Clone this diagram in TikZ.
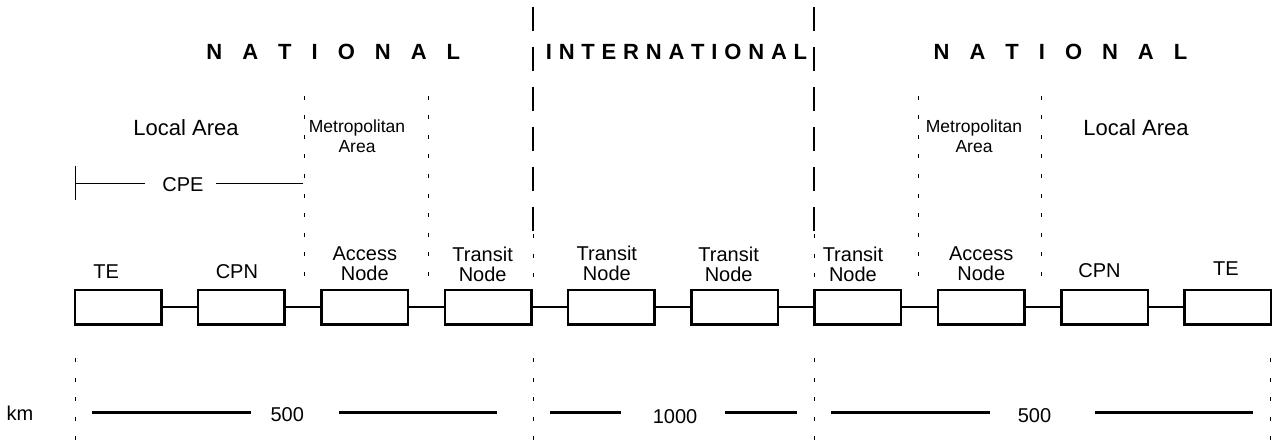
\documentclass[tikz,border=0pt]{standalone}
\usepackage{fontspec}
\setmainfont{Liberation Sans}
\usetikzlibrary{positioning}

% letters of a word set apart by a fixed gap
\newcommand\spreadword[2]{\def\spreadgap{#1}\spreadloop#2\relax}
\def\spreadloop#1{\ifx\relax#1\unkern\else#1\kern\spreadgap\expandafter\spreadloop\fi}

\tikzset{every picture/.style={line width=1pt}}
\tikzset{
  netbox/.style={draw, line width=2.5pt, minimum width=86.5pt, minimum height=34.5pt, inner sep=0pt},
  link/.style={line width=2pt},
  boxlabel/.style={font=\fontsize{20}{20}\selectfont, align=center, inner sep=0pt},
  arealabel/.style={font=\fontsize{22}{22}\selectfont, inner sep=0pt, anchor=base},
  metrolabel/.style={font=\fontsize{17.5}{20}\selectfont, align=center, inner sep=0pt, anchor=south},
  zonelabel/.style={font=\bfseries\fontsize{22}{22}\selectfont, inner sep=0pt, anchor=base},
  kmlabel/.style={font=\fontsize{20}{20}\selectfont, inner sep=0pt, anchor=base},
  kmline/.style={line width=2.3pt},
  bounddash/.style={line width=1.3pt, dash pattern=on 24pt off 16pt},
  bounddot/.style={line width=0.9pt, dash pattern=on 4pt off 15.5pt},
}

\begin{document}
\begin{tikzpicture}[x=1pt,y=-1pt]
\useasboundingbox (0,0) rectangle (1272,441);

% zone titles
\node[zonelabel] (natL) at (333.3,60) {\spreadword{20pt}{NATIONAL}};
\node[zonelabel] (intl) at (676.5,60) {\spreadword{6.8pt}{INTERNATIONAL}};
\node[zonelabel] (natR) at (1060.5,60) {\spreadword{20pt}{NATIONAL}};

% area titles
\node[arealabel] (locL) at (186,136) {Local Area};
\node[arealabel] (locR) at (1136,136) {Local Area};
\node[metrolabel] (metL) at (357,153) {Metropolitan\\Area};
\node[metrolabel] (metR) at (974,153) {Metropolitan\\Area};

% CPE span
\node[kmlabel] (cpe) at (183,192) {CPE};
\draw (75,166) -- (75,200);
\draw (75,183.3) -- (145,183.3);
\draw (216,183.3) -- (303,183.3);

% boundaries
\foreach \bx in {533,814} {
  \draw[bounddash] (\bx,7) -- (\bx,231);
  \draw[bounddot] (\bx,234) -- (\bx,280);
}
\foreach \bx in {304,428,918,1041}
  \draw[bounddot] (\bx,96) -- (\bx,276);
\foreach \bx in {75,533,814,1270.5}
  \draw[bounddot] (\bx,358) -- (\bx,441);

% chain of boxes
\foreach \i in {1,...,10}
  \node[netbox] (b\i) at ({118.2+123.29*(\i-1)},307) {};
\foreach \i [count=\j from 2] in {1,...,9}
  \draw[link] (b\i) -- (b\j);

% box labels
\foreach \i/\txt/\gap/\xs in {1/TE/9.2/-12, 2/CPN/9.5/-4.6, 3/{Access\\Node}/7.8/0,
    4/{Transit\\Node}/6.8/-5.4, 5/{Transit\\Node}/7/-4.5, 6/{Transit\\Node}/6.5/-6,
    7/{Transit\\Node}/6.5/-5, 8/{Access\\Node}/7.8/0, 9/CPN/10.5/-5, 10/TE/12.5/-2}
  \node[boxlabel, above=\gap pt of b\i, xshift=\xs pt] (l\i) {\txt};

% distances
\node[kmlabel] (km) at (20,420) {km};
\node[kmlabel] (d1) at (287.3,421.7) {500};
\node[kmlabel] (d2) at (675,423) {1000};
\node[kmlabel] (d3) at (1034.5,422) {500};
\draw[kmline] (92,412.5) -- (251,412.5);
\draw[kmline] (339,412.5) -- (497,412.5);
\draw[kmline] (550,412.5) -- (621,412.5);
\draw[kmline] (725,412.5) -- (796.5,412.5);
\draw[kmline] (831,412.5) -- (990,412.5);
\draw[kmline] (1094.5,412.5) -- (1253,412.5);
\end{tikzpicture}
\end{document}
